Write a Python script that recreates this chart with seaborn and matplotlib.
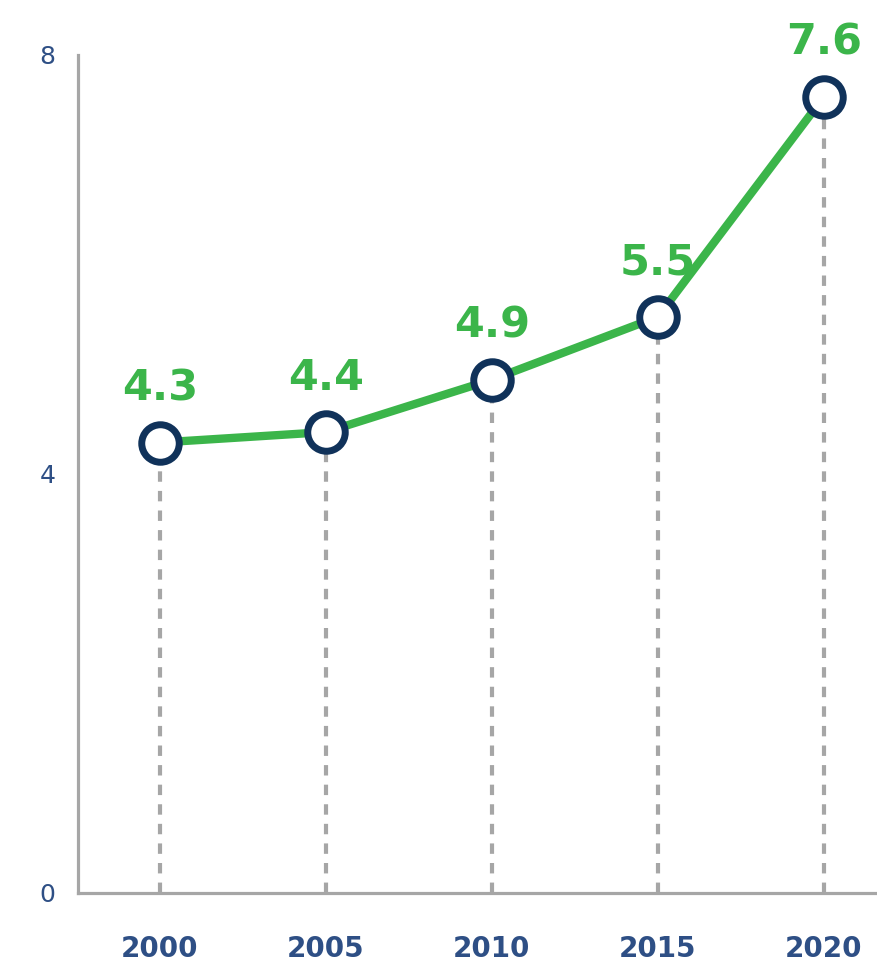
import matplotlib
matplotlib.use("Agg")
import matplotlib.pyplot as plt
import seaborn as sns
import pandas as pd

years = [2000, 2005, 2010, 2015, 2020]
values = [4.3, 4.4, 4.9, 5.5, 7.6]
value_labels = ["4.3", "4.4", "4.9", "5.5", "7.6"]
y_ticks = [0, 4, 8]

GREEN = "#3BB54A"
NAVY = "#10325A"
TICK = "#2E4F85"
GRAY = "#A6A6A6"

sns.set_theme(style="white")
plt.rcParams['font.family'] = ['DejaVu Sans']

df = pd.DataFrame({"year": years, "value": values})

fig = plt.figure(figsize=(8.77, 9.64), dpi=100)
ax = fig.add_axes([0.0889, 0.0737, 0.9111, 0.8693])

for x, y in zip(years, values):
    ax.plot([x, x], [0, y], color=GRAY, lw=3, ls=(0, (2.5, 2.2)), zorder=1)

sns.lineplot(data=df, x="year", y="value", ax=ax, color=GREEN, lw=6,
             marker="o", markersize=27, markerfacecolor="white",
             markeredgecolor=NAVY, markeredgewidth=5, zorder=3)

for x, y, t in zip(years, values, value_labels):
    ax.annotate(t, (x, y), xytext=(0, 24), textcoords="offset points",
                ha="center", va="bottom", fontsize=31, fontweight="heavy",
                color=GREEN)

ax.set_xlim(1997.53, 2021.6)
ax.set_ylim(0, 8)
ax.set_xticks(years)
ax.set_xticklabels([str(y) for y in years], fontsize=20, fontweight="bold", color=TICK)
ax.set_yticks(y_ticks)
ax.set_yticklabels([str(v) for v in y_ticks], fontsize=18, fontweight="medium", color=TICK)
ax.tick_params(axis="x", length=0, pad=30)
ax.tick_params(axis="y", length=0, pad=16)
ax.set_xlabel("")
ax.set_ylabel("")
for s in ["top", "right"]:
    ax.spines[s].set_visible(False)
for s in ["left", "bottom"]:
    ax.spines[s].set_color(GRAY)
    ax.spines[s].set_linewidth(2.3)
ax.grid(False)

fig.savefig("out.png", dpi=100)
